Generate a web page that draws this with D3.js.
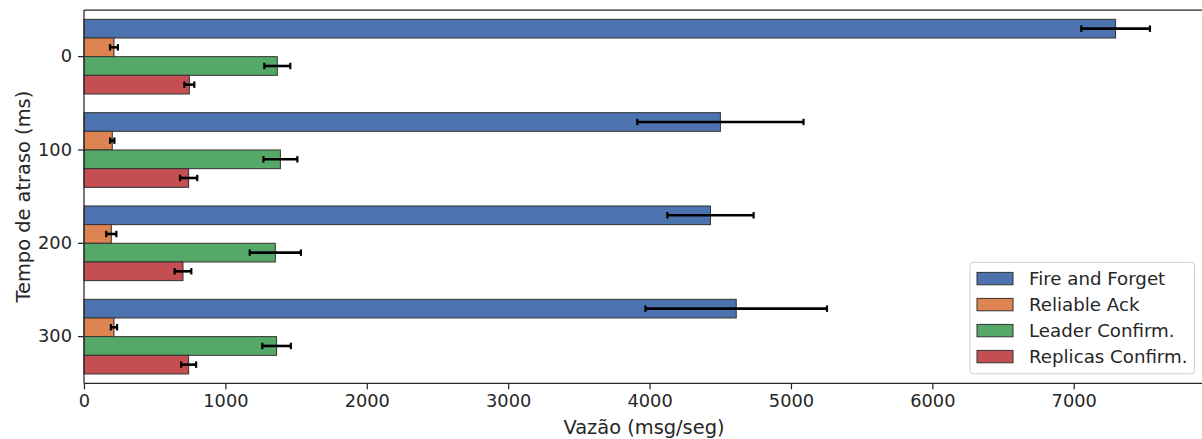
<!DOCTYPE html>
<html>
<head>
<meta charset="utf-8">
<script src="https://cdn.jsdelivr.net/npm/d3@7"></script>
<style>
  html, body { margin: 0; padding: 0; background: #fff; }
  svg { display: block; font-family: "DejaVu Sans", sans-serif; }
</style>
</head>
<body>
<svg id="chart" width="1202" height="439"></svg>
<script>
// Delay settings (ms) on the category axis
const delays = ["0", "100", "200", "300"];
// Delivery modes
const modes = ["Fire and Forget", "Reliable Ack", "Leader Confirm.", "Replicas Confirm."];
const modeColors = ["#4C72B0", "#DD8452", "#55A868", "#C44E52"];

// Mean throughput (msg/seg), one array per mode, indexed by delay
const fireAndForget   = [7296, 4501, 4431, 4613];
const reliableAck     = [212, 200, 193, 212];
const leaderConfirm   = [1367, 1389, 1353, 1362];
const replicasConfirm = [745, 740, 700, 740];

// Error bar half-widths (msg/seg)
const fireAndForgetErr   = [243, 588, 305, 642];
const reliableAckErr     = [28, 15, 36, 22];
const leaderConfirmErr   = [92, 120, 181, 101];
const replicasConfirmErr = [35, 61, 59, 53];

const xTicks = [0, 1000, 2000, 3000, 4000, 5000, 6000, 7000];

const means = [fireAndForget, reliableAck, leaderConfirm, replicasConfirm];
const errs = [fireAndForgetErr, reliableAckErr, leaderConfirmErr, replicasConfirmErr];

const rows = [];
modes.forEach((m, mi) => delays.forEach((d, di) => {
  rows.push({ mode: m, mi, delay: d, value: means[mi][di], err: errs[mi][di] });
}));

const svg = d3.select("#chart");
const margin = { left: 84, top: 10, bottom: 383.3 };
const plotRight = 1200 + 10; // plot area continues past the right edge

const x = d3.scaleLinear().domain([0, 7893]).range([margin.left, 1200]);
const y = d3.scaleBand().domain(delays).range([margin.top, margin.bottom]).paddingInner(0).paddingOuter(0);
// Each group spans 0.8 of the band, bars stacked without gaps
const groupFrac = 0.8;
const barH = y.bandwidth() * groupFrac / modes.length;
const barY = r => y(r.delay) + y.bandwidth() * (1 - groupFrac) / 2 + r.mi * barH;

const textColor = "#262626";

// Bars
svg.append("g").selectAll("rect").data(rows).join("rect")
  .attr("x", x(0))
  .attr("y", barY)
  .attr("width", d => x(d.value) - x(0))
  .attr("height", barH)
  .attr("fill", d => modeColors[d.mi])
  .attr("stroke", "#333")
  .attr("stroke-width", 1);

// Error bars
const eb = svg.append("g").attr("stroke", "#000").attr("fill", "none");
rows.forEach(r => {
  const cy = barY(r) + barH / 2;
  const x0 = x(r.value - r.err), x1 = x(r.value + r.err);
  eb.append("line").attr("x1", x0).attr("x2", x1).attr("y1", cy).attr("y2", cy).attr("stroke-width", 2.6);
  [x0, x1].forEach(xx => eb.append("line").attr("x1", xx).attr("x2", xx)
    .attr("y1", cy - 3.2).attr("y2", cy + 3.2).attr("stroke-width", 2.2));
});

// Spines (left, top, bottom; right edge lies beyond the view)
const spines = svg.append("g").attr("stroke", textColor).attr("stroke-width", 1.25);
spines.append("line").attr("x1", margin.left).attr("x2", margin.left).attr("y1", margin.top).attr("y2", margin.bottom);
spines.append("line").attr("x1", margin.left).attr("x2", plotRight).attr("y1", margin.top).attr("y2", margin.top);
spines.append("line").attr("x1", margin.left).attr("x2", plotRight).attr("y1", margin.bottom).attr("y2", margin.bottom);

// X axis
const xAxis = svg.append("g").attr("transform", `translate(0,${margin.bottom})`)
  .call(d3.axisBottom(x).tickValues(xTicks).tickFormat(d3.format("d")).tickSize(6).tickPadding(5));
xAxis.select(".domain").remove();
xAxis.selectAll("line").attr("stroke", textColor).attr("stroke-width", 1.25);
xAxis.selectAll("text").attr("fill", textColor).style("font-size", "17.8px").style("font-family", "DejaVu Sans");

// Y axis
const yAxis = svg.append("g").attr("transform", `translate(${margin.left},0)`)
  .call(d3.axisLeft(y).tickSize(6).tickPadding(6));
yAxis.select(".domain").remove();
yAxis.selectAll("line").attr("stroke", textColor).attr("stroke-width", 1.25);
yAxis.selectAll("text").attr("fill", textColor).style("font-size", "17.8px").style("font-family", "DejaVu Sans");

// Axis titles
svg.append("text").attr("x", 644).attr("y", 434)
  .attr("text-anchor", "middle").attr("fill", textColor)
  .style("font-size", "19.4px").text("Vazão (msg/seg)");
svg.append("text").attr("transform", `translate(30,${(margin.top + margin.bottom) / 2}) rotate(-90)`)
  .attr("text-anchor", "middle").attr("fill", textColor)
  .style("font-size", "19.4px").text("Tempo de atraso (ms)");

// Legend
const lg = svg.append("g");
lg.append("rect").attr("x", 970).attr("y", 262.3).attr("width", 224.5).attr("height", 111.5)
  .attr("rx", 3).attr("fill", "#fff").attr("fill-opacity", 0.8)
  .attr("stroke", "#d0d0d0").attr("stroke-width", 1);
modes.forEach((m, i) => {
  const cy = 278.6 + i * 26;
  lg.append("rect").attr("x", 977).attr("y", cy - 6.2).attr("width", 36).attr("height", 12.4)
    .attr("fill", modeColors[i]).attr("stroke", "#333").attr("stroke-width", 1);
  lg.append("text").attr("x", 1029).attr("y", cy).attr("dy", "0.35em")
    .attr("fill", textColor).style("font-size", "18.2px").text(m);
});
</script>
</body>
</html>
